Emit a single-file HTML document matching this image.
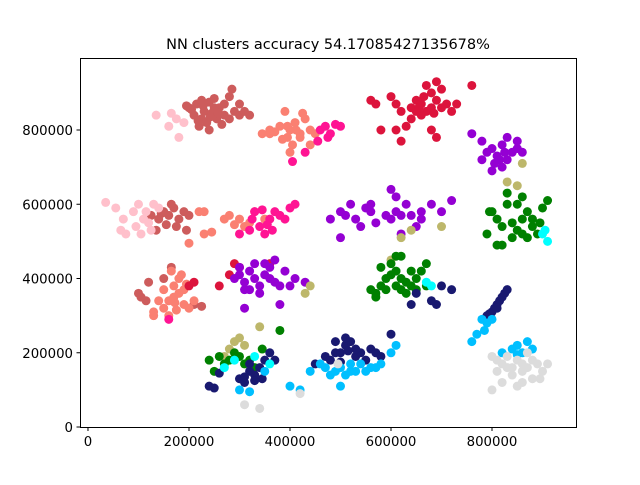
<!DOCTYPE html>
<html><head><meta charset="utf-8"><style>
body{margin:0;background:#fff}
svg text{font-family:"DejaVu Sans","Liberation Sans",sans-serif;fill:#000}
</style></head><body>
<svg id="chart" width="640" height="480" xmlns="http://www.w3.org/2000/svg">
<rect width="640" height="480" fill="#fff"/>
<text x="328" y="49" font-size="14.5" text-anchor="middle">NN clusters accuracy 54.17085427135678%</text>
<g id="pts"></g>
<rect x="80.5" y="58.5" width="496" height="369" fill="none" stroke="#000" stroke-width="1"/>
<g id="axes"></g>
</svg>
<script>
const xTicks=[0,200000,400000,600000,800000];
const yTicks=[0,200000,400000,600000,800000];
const indianredPts=[[200,860],[215,870],[225,880],[240,875],[250,885],[230,850],[210,840],[245,845],[260,860],[270,870],[280,890],[235,820],[225,830],[255,830],[290,850],[300,840],[240,800],[220,810],[265,815],[280,830],[300,870],[285,910],[250,860],[205,855],[270,840],[320,840],[310,850],[195,865],[228,865],[242,835],[258,845],[218,825],[125,570],[140,560],[150,580],[160,570],[170,590],[180,560],[190,580],[200,570],[155,545],[175,540],[135,530],[165,600],[195,530],[145,575],[100,360],[120,390],[115,340],[150,400],[165,430],[210,330],[225,325],[105,350]];
const pinkPts=[[135,840],[165,845],[175,830],[160,810],[190,820],[180,780],[35,605],[55,590],[70,560],[75,520],[90,580],[95,540],[100,600],[105,520],[115,580],[120,550],[130,600],[110,560],[125,530],[140,590],[65,530]];
const salmonPts=[[345,790],[360,800],[380,810],[400,800],[420,790],[410,820],[390,850],[430,830],[440,800],[405,760],[385,775],[420,780],[450,790],[440,760],[360,790],[400,740],[425,845],[395,780],[370,795],[412,800],[395,810],[200,495],[230,520],[245,525],[230,580],[270,560],[280,570],[300,560],[320,550],[310,540],[290,545],[330,580],[350,560],[220,580],[130,300],[150,320],[160,340],[170,350],[180,360],[190,330],[200,320],[170,380],[180,400],[150,370],[160,300],[175,315],[190,370],[210,340],[140,340],[165,420],[185,410],[195,385],[130,310],[172,335]];
const deeppinkPts=[[460,800],[470,810],[480,790],[490,815],[455,770],[405,715],[430,740],[475,780],[500,810],[300,520],[320,530],[340,540],[360,560],[370,580],[380,570],[350,520],[330,580],[365,530],[390,560],[400,590],[410,600],[345,585],[325,560],[355,545],[160,290]];
const crimsonPts=[[560,880],[570,870],[600,890],[610,870],[620,850],[640,860],[650,880],[660,870],[670,850],[680,860],[690,880],[700,860],[710,870],[720,850],[680,900],[690,930],[670,920],[700,910],[640,830],[660,840],[630,810],[610,800],[620,770],[580,800],[680,800],[690,780],[760,920],[730,870],[650,850],[665,890],[655,860],[685,845],[200,380],[210,390],[290,440],[300,430],[260,380],[280,410],[360,440]];
const violetPts=[[760,790],[780,770],[790,740],[800,750],[810,730],[820,760],[830,720],[840,740],[850,770],[820,700],[800,690],[815,720],[860,740],[780,720],[830,780],[850,750],[805,710],[825,740],[480,560],[500,580],[510,570],[520,600],[530,560],[550,590],[560,580],[570,550],[590,570],[600,560],[610,580],[620,570],[630,600],[640,570],[660,580],[680,600],[700,580],[720,610],[600,640],[610,620],[560,600],[620,520],[540,540],[500,510],[660,560],[650,540],[290,400],[300,410],[310,390],[320,420],[330,400],[340,380],[350,410],[360,400],[370,390],[380,380],[320,370],[340,360],[360,430],[390,420],[410,400],[400,380],[350,440],[370,450],[300,430],[430,390],[310,370],[330,440],[310,320],[380,330]];
const khakiPts=[[640,530],[700,540],[620,510],[850,650],[860,710],[830,660],[600,450],[440,380],[430,360],[280,210],[290,230],[300,240],[310,220],[340,270],[270,190]];
const greenPts=[[790,520],[800,580],[810,560],[820,540],[830,600],[840,550],[850,530],[860,560],[870,580],[880,540],[890,520],[900,590],[910,610],[820,490],[810,490],[840,510],[860,520],[880,560],[850,600],[870,510],[895,550],[830,630],[860,620],[795,580],[570,360],[580,380],[590,400],[600,410],[610,420],[620,400],[630,390],[640,380],[650,400],[660,420],[600,440],[610,380],[590,370],[620,370],[630,360],[650,370],[670,380],[580,430],[610,460],[670,440],[640,420],[560,370],[570,350],[620,460],[240,180],[250,150],[260,190],[270,170],[280,180],[290,200],[300,190],[310,170],[320,180],[330,160],[380,260],[345,210]];
const navyPts=[[790,300],[800,310],[810,330],[805,320],[815,340],[820,350],[825,360],[830,370],[795,305],[810,320],[700,380],[720,370],[690,330],[680,340],[650,360],[640,330],[600,250],[450,170],[470,190],[480,180],[490,200],[500,200],[510,220],[520,230],[530,190],[540,200],[550,180],[560,210],[570,200],[580,190],[490,230],[510,240],[500,175],[530,210],[515,205],[240,110],[250,105],[300,130],[310,120],[320,150],[330,140],[340,160],[350,180],[360,200],[345,130],[320,170],[370,180],[330,125],[310,135],[260,145]];
const skyPts=[[770,250],[780,290],[790,280],[760,230],[785,260],[800,290],[820,200],[840,210],[850,220],[860,200],[870,230],[880,210],[850,195],[440,150],[460,170],[480,140],[500,160],[520,150],[540,170],[560,160],[580,170],[500,110],[510,140],[530,150],[550,150],[470,160],[490,150],[570,160],[520,170],[600,200],[300,100],[350,150],[400,110],[420,100],[320,95],[610,220]];
const cyanPts=[[680,380],[670,390],[900,520],[910,500],[905,530],[270,160],[330,190],[290,180],[360,170]];
const grayPts=[[800,190],[810,150],[820,170],[830,160],[840,140],[850,180],[860,150],[870,160],[880,130],[890,170],[900,150],[910,170],[820,120],[850,110],[800,100],[870,200],[880,180],[840,160],[860,120],[895,130],[830,190],[810,180],[860,170],[310,60],[340,50],[420,90],[495,170]];
const seriesColors=["#cd5c5c","#ffc0cb","#fa8072","#ff1493","#dc143c","#9400d3","#bdb76b","#008000","#191970","#00bfff","#00ffff","#dcdcdc"];
const seriesNames=["indianred","pink","salmon","deeppink","crimson","darkviolet","darkkhaki","green","midnightblue","deepskyblue","cyan","gainsboro"];
const seriesData=[indianredPts,pinkPts,salmonPts,deeppinkPts,crimsonPts,violetPts,khakiPts,greenPts,navyPts,skyPts,cyanPts,grayPts];
const X0=80,X1=576,Y0=427.2,Y1=57.6,xmin=-15800,xmax=966300,ymin=-500,ymax=995000;
const sx=v=>X0+(v-xmin)/(xmax-xmin)*(X1-X0);
const sy=v=>Y0-(v-ymin)/(ymax-ymin)*(Y0-Y1);
const NS="http://www.w3.org/2000/svg";
const pg=document.getElementById('pts');
seriesData.forEach((arr,i)=>{
  const g=document.createElementNS(NS,'g');
  
  
  arr.forEach(p=>{
    const c=document.createElementNS(NS,'circle');
    
    
    c.setAttribute('cx',sx(p[0]*1000));c.setAttribute('cy',sy(p[1]*1000));
    c.setAttribute('r',4.5);c.setAttribute('fill',seriesColors[i]);
    g.appendChild(c);
  });
  pg.appendChild(g);
});
const ag=document.getElementById('axes');
xTicks.forEach(t=>{
  const x=sx(t);
  const l=document.createElementNS(NS,'line');
  
  
  l.setAttribute('x1',x);l.setAttribute('x2',x);l.setAttribute('y1',427.5);l.setAttribute('y2',431);l.setAttribute('stroke','#000');
  ag.appendChild(l);
  const tx=document.createElementNS(NS,'text');
  
  
  tx.setAttribute('x',x);tx.setAttribute('y',446);tx.setAttribute('font-size','13.3');tx.setAttribute('text-anchor','middle');
  tx.textContent=t;ag.appendChild(tx);
});
yTicks.forEach(t=>{
  const y=sy(t);
  const l=document.createElementNS(NS,'line');
  
  
  l.setAttribute('x1',76.5);l.setAttribute('x2',80.5);l.setAttribute('y1',y);l.setAttribute('y2',y);l.setAttribute('stroke','#000');
  ag.appendChild(l);
  const tx=document.createElementNS(NS,'text');
  
  
  tx.setAttribute('x',73);tx.setAttribute('y',y+5);tx.setAttribute('font-size','13.3');tx.setAttribute('text-anchor','end');
  tx.textContent=t;ag.appendChild(tx);
});
</script>
</body></html>
